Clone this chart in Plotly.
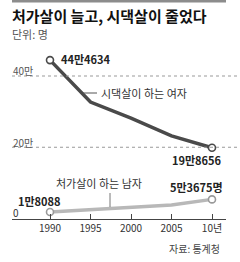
import plotly.graph_objects as go

years = [1990, 1995, 2000, 2005, 2010]
tick_labels = ["1990", "1995", "2000", "2005", "10년"]
women = [444634, 327000, 282000, 232000, 198656]
men = [18088, 25000, 30000, 38000, 53675]
women_name = "시댁살이 하는 여자"
men_name = "처가살이 하는 남자"
title = "처가살이 늘고, 시댁살이 줄었다"
unit = "단위: 명"
source = "자료: 통계청"

W, H = 240, 262
FONT = "Noto Sans CJK KR"


def man(v, suffix=""):
    return f"{v // 10000}만{v % 10000}{suffix}"


def py(p):
    return 1 - p / H


fig = go.Figure()
fig.add_trace(go.Scatter(
    x=years, y=women, mode="lines", line=dict(color="#4a4a4a", width=3.5),
    cliponaxis=False, hoverinfo="skip"))
fig.add_trace(go.Scatter(
    x=[years[0], years[-1]], y=[women[0], women[-1]], mode="markers",
    marker=dict(symbol="circle", size=7, color="white",
                line=dict(color="#4a4a4a", width=1.6)),
    cliponaxis=False, hoverinfo="skip"))
fig.add_trace(go.Scatter(
    x=years, y=men, mode="lines", line=dict(color="#b8b8b8", width=3.5),
    cliponaxis=False, hoverinfo="skip"))
fig.add_trace(go.Scatter(
    x=[years[0], years[-1]], y=[men[0], men[-1]], mode="markers",
    marker=dict(symbol="circle", size=7, color="white",
                line=dict(color="#999999", width=1.6)),
    cliponaxis=False, hoverinfo="skip"))

shapes = [
    dict(type="rect", xref="paper", yref="paper", x0=12 / W, x1=226 / W, y0=py(0), y1=py(2.5),
         fillcolor="#8c8c8c", line=dict(width=0)),
]
for g in (200000, 400000):
    shapes.append(dict(type="line", xref="paper", yref="y", x0=12 / W, x1=238 / W,
                       y0=g, y1=g, line=dict(color="#999999", width=1, dash="dot")))
# leader lines
shapes.append(dict(type="line", xref="paper", yref="paper", x0=83 / W, x1=97 / W,
                   y0=py(93), y1=py(93), line=dict(color="#555555", width=1)))
shapes.append(dict(type="line", xref="paper", yref="paper", x0=110 / W, x1=110 / W,
                   y0=py(193), y1=py(207), line=dict(color="#777777", width=1)))

ann = []


def txt(text, x, y, size, color="#333", bold=False, xanchor="left"):
    ann.append(dict(text=f"<b>{text}</b>" if bold else text, xref="paper", yref="paper",
                    x=x / W, y=py(y), xanchor=xanchor, yanchor="middle", showarrow=False,
                    font=dict(family=FONT, size=size, color=color)))


txt(title, 10, 16, 15, "#111", bold=True)
txt(unit, 10, 34, 11, "#555")
txt("40만", 11, 70, 10, "#555")
txt("20만", 11, 142, 10, "#555")
txt("0", 11, 212, 10, "#333")
txt(women_name, 99, 93, 11, "#333")
txt(men_name, 54, 183, 11, "#333")
txt(source, 222, 248, 10, "#444", xanchor="right")


def vlabel(x, y, text, xanchor, xshift, yshift):
    ann.append(dict(text=f"<b>{text}</b>", x=x, y=y, xref="x", yref="y", xanchor=xanchor,
                    yanchor="middle", xshift=xshift, yshift=yshift, showarrow=False,
                    font=dict(family=FONT, size=11, color="#222")))


vlabel(years[0], women[0], man(women[0]), "left", 9, 1)
vlabel(years[-1], women[-1], man(women[-1]), "right", 12, -12)
vlabel(years[-1], men[-1], man(men[-1], "명"), "right", 13, 12)
vlabel(years[0], men[0], man(men[0]), "right", 13, 11)

px_per_year = 162 / 20
x_left = years[0] - (50 - 12) / px_per_year
x_right = years[-1] + (226 - 212) / px_per_year
val_per_px = 400000 / (218.5 - 76)

fig.update_layout(
    width=W, height=H, margin=dict(l=0, r=0, t=0, b=0),
    paper_bgcolor="white", plot_bgcolor="white", showlegend=False,
    shapes=shapes, annotations=ann,
    xaxis=dict(domain=[12 / W, 226 / W], range=[x_left, x_right], showgrid=False,
               zeroline=False, showline=True, linecolor="#444", linewidth=1,
               ticks="inside", ticklen=5, tickcolor="#444", tickwidth=1,
               tickvals=years, ticktext=tick_labels,
               tickfont=dict(family=FONT, size=10, color="#333"), fixedrange=True),
    yaxis=dict(domain=[(H - 218.5) / H, 1], range=[0, 218.5 * val_per_px], visible=False,
               fixedrange=True),
)
fig.write_html("out.html")
